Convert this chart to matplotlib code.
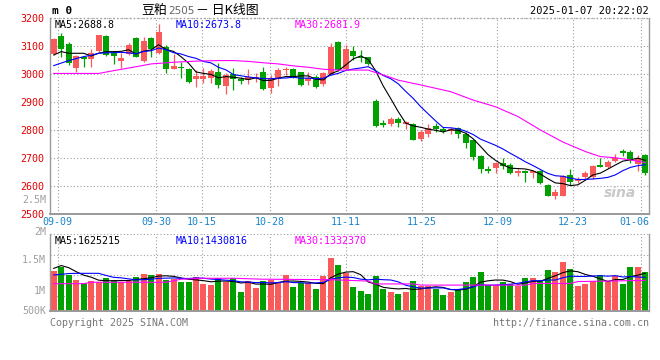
import numpy as np
import pandas as pd
import matplotlib

matplotlib.use("Agg")
import matplotlib.pyplot as plt

# trading days shown on the chart (2024-09-06 .. 2025-01-07)
dates = [
    "09-06", "09-09", "09-10", "09-11", "09-12", "09-13", "09-18", "09-19", "09-20",
    "09-23", "09-24", "09-25", "09-26", "09-27", "09-30",
    "10-08", "10-09", "10-10", "10-11", "10-14", "10-15", "10-16", "10-17", "10-18",
    "10-21", "10-22", "10-23", "10-24", "10-25", "10-28", "10-29", "10-30", "10-31",
    "11-01", "11-04", "11-05", "11-06", "11-07", "11-08", "11-11", "11-12", "11-13",
    "11-14", "11-15", "11-18", "11-19", "11-20", "11-21", "11-22", "11-25", "11-26",
    "11-27", "11-28", "11-29", "12-02", "12-03", "12-04", "12-05", "12-06", "12-09",
    "12-10", "12-11", "12-12", "12-13", "12-16", "12-17", "12-18", "12-19", "12-20",
    "12-23", "12-24", "12-25", "12-26", "12-27", "12-30", "12-31",
    "01-02", "01-03", "01-06", "01-07",
]
label_dates = ["09-09", "09-30", "10-15", "10-28", "11-11", "11-25", "12-09", "12-23", "01-06"]

opens = [
    3070, 3136, 3107, 3023, 3062, 3054, 3082, 3137, 3081, 3048,
    3070, 3130, 3046, 3130, 3076, 3096, 3018, 3026, 3017, 2981,
    2982, 2987, 3007, 2958, 2999, 2981, 2979, 2984, 3007, 2951,
    2982, 3013, 3017, 3006, 2975, 2990, 2966, 2999, 3114, 3018,
    3082, 3060, 3060, 2904, 2825, 2820, 2839, 2820, 2821, 2767,
    2786, 2814, 2804, 2797, 2808, 2785, 2764, 2707, 2660, 2663,
    2681, 2675, 2648, 2652, 2648, 2654, 2604, 2566, 2566, 2638,
    2618, 2631, 2633, 2674, 2668, 2689, 2726, 2720, 2679, 2711,
]
highs = [
    3127, 3148, 3114, 3068, 3064, 3088, 3141, 3139, 3082, 3074,
    3112, 3133, 3133, 3133, 3179, 3104, 3070, 3044, 3020, 3014,
    3020, 3017, 3038, 3005, 3023, 2990, 3018, 3005, 3026, 2996,
    3020, 3026, 3023, 3008, 3006, 2996, 3008, 3112, 3118, 3104,
    3100, 3086, 3062, 2911, 2836, 2845, 2845, 2833, 2824, 2800,
    2821, 2826, 2812, 2812, 2812, 2794, 2767, 2710, 2671, 2687,
    2699, 2681, 2660, 2657, 2655, 2657, 2606, 2588, 2639, 2660,
    2631, 2652, 2675, 2699, 2693, 2714, 2733, 2729, 2711, 2713,
]
lows = [
    3068, 3062, 3032, 3008, 3026, 3026, 3078, 3064, 3035, 3023,
    3068, 3060, 3043, 3062, 3070, 3005, 3017, 2985, 2969, 2955,
    2967, 2969, 2950, 2929, 2943, 2963, 2964, 2970, 2943, 2931,
    2957, 2996, 2985, 2957, 2960, 2951, 2958, 2996, 3012, 3014,
    3050, 3044, 3031, 2810, 2812, 2815, 2812, 2803, 2764, 2762,
    2776, 2794, 2788, 2786, 2773, 2737, 2693, 2645, 2648, 2648,
    2661, 2643, 2636, 2616, 2628, 2607, 2565, 2552, 2563, 2605,
    2612, 2625, 2624, 2667, 2663, 2685, 2707, 2683, 2654, 2639,
]
closes = [
    3125, 3089, 3040, 3064, 3052, 3076, 3139, 3067, 3065, 3057,
    3105, 3062, 3118, 3088, 3150, 3019, 3029, 3023, 2973, 2993,
    2993, 3011, 2961, 2996, 2981, 2976, 2988, 2990, 2948, 2985,
    3014, 3018, 2988, 2961, 2985, 2955, 3005, 3098, 3014, 3089,
    3064, 3057, 3034, 2813, 2819, 2839, 2825, 2827, 2764, 2794,
    2806, 2804, 2798, 2802, 2785, 2755, 2705, 2660, 2655, 2683,
    2673, 2648, 2652, 2648, 2652, 2612, 2566, 2577, 2636, 2616,
    2626, 2648, 2671, 2669, 2687, 2700, 2717, 2693, 2700, 2648,
]
# volume in millions of lots
volumes = [
    1.70, 1.88, 1.53, 1.32, 1.18, 1.27, 1.24, 1.42, 1.32, 1.22,
    1.27, 1.46, 1.59, 1.51, 1.59, 1.32, 1.35, 1.24, 1.24, 1.46,
    1.15, 1.11, 1.39, 1.24, 1.39, 0.82, 1.27, 0.99, 1.27, 1.32,
    1.22, 1.53, 1.03, 1.18, 1.18, 0.94, 1.49, 2.27, 1.96, 1.60,
    1.03, 0.85, 0.72, 1.49, 0.94, 0.82, 0.72, 0.82, 1.27, 1.06,
    1.06, 0.93, 0.69, 0.82, 0.94, 1.24, 1.46, 1.66, 1.11, 1.11,
    1.22, 1.14, 1.08, 1.42, 1.42, 1.27, 1.72, 1.66, 2.08, 1.80,
    1.08, 1.14, 1.27, 1.53, 1.24, 1.49, 1.15, 1.87, 1.87, 1.64,
]

# moving-average values before enough history is on screen
ma5_head = [3068, 3080, 3074, 3074]
ma10_head = [3030, 3039, 3048, 3055, 3062, 3067, 3074, 3076, 3076]
ma30_idx = [0, 6, 8, 11, 13, 16, 19, 22, 24, 26, 28, 30, 32, 34, 36, 38, 42, 43, 45,
            46, 49, 53, 56, 59, 62, 65, 68, 71, 73, 75, 77, 79]
ma30_val = [3002, 3002, 3012, 3026, 3036, 3042, 3046, 3048, 3048, 3045, 3040, 3036,
            3029, 3024, 3017, 3014, 3014, 3005, 2988, 2978, 2961, 2937, 2907, 2883,
            2848, 2800, 2757, 2723, 2705, 2701, 2693, 2684]
vma5_head = [1.81, 1.93, 1.84, 1.67]
vma10_head = [1.53, 1.56, 1.59, 1.60, 1.60, 1.60, 1.60, 1.51, 1.43]
vma30_idx = [0, 4, 5, 15, 17, 20, 24, 28, 37, 42, 43, 48, 49, 63, 64, 69, 70, 79]
vma30_val = [1.16, 1.16, 1.22, 1.22, 1.35, 1.39, 1.39, 1.35, 1.33, 1.27, 1.15, 1.15,
             1.10, 1.10, 1.17, 1.17, 1.25, 1.30]

RED = "#FA5A5A"
GREEN = "#00A000"
GRID = "#A0A0A0"
MONO = "DejaVu Sans Mono"
W, H = 660, 360


def _axes(fig, left, top, right, bottom):
    return fig.add_axes([left / W, 1 - bottom / H, (right - left) / W, (bottom - top) / H])


def _frame(ax):
    ax.spines["top"].set_visible(False)
    for side in ("left", "right"):
        ax.spines[side].set_color("#999999")
        ax.spines[side].set_linewidth(1.0)
    ax.spines["bottom"].set_color("#999999")
    ax.spines["bottom"].set_linewidth(1.4)
    ax.set_xticks([])
    ax.tick_params(axis="y", length=0)


def _grid_x(ax, positions):
    for x in positions:
        ax.axvline(x, color=GRID, lw=0.8, ls=(0, (1, 2)), zorder=0)


def main():
    n = len(closes)
    x = np.arange(n)
    o = np.array(opens, float)
    c = np.array(closes, float)
    up = c >= o
    colors = np.where(up, RED, GREEN)

    close_s = pd.Series(c)
    ma5 = close_s.rolling(5).mean().to_numpy()
    ma5[:4] = ma5_head
    ma10 = close_s.rolling(10).mean().to_numpy()
    ma10[:9] = ma10_head

    vol = np.array(volumes) * 1e6
    vol_s = pd.Series(vol)
    vma5 = vol_s.rolling(5).mean().to_numpy()
    vma5[:4] = np.array(vma5_head) * 1e6
    vma10 = vol_s.rolling(10).mean().to_numpy()
    vma10[:9] = np.array(vma10_head) * 1e6

    # sina places the date grid on a slightly different step than the candles
    grid_x = [dates.index(d) * n / (n - 1) - 0.5 for d in label_dates]

    fig = plt.figure(figsize=(6.6, 3.6), dpi=100)
    fig.patch.set_facecolor("white")

    # ---- price panel
    ax = _axes(fig, 50, 18, 649, 214)
    _frame(ax)
    ax.set_xlim(-0.5, n - 0.5)
    ax.set_ylim(2500, 3200)
    ax.set_yticks(range(2500, 3201, 100))
    ax.set_yticklabels([str(v) for v in range(2500, 3201, 100)],
                       family=MONO, fontsize=7.2, color="#E00000")
    ax.tick_params(axis="y", pad=4)
    ax.grid(axis="y", color=GRID, lw=0.8, ls=(0, (1, 2)), zorder=0)
    ax.axhline(3200, color=GRID, lw=1.0, ls=(0, (1, 2)), clip_on=False)
    _grid_x(ax, grid_x)

    body_bottom = np.minimum(o, c)
    body_h = np.maximum(np.abs(c - o), 2.5)
    ax.vlines(x, lows, highs, colors=colors, lw=0.9, zorder=2)
    ax.bar(x, body_h, bottom=body_bottom, width=0.8, color=colors, lw=0, zorder=3)

    ax.plot(x, ma5, color="black", lw=0.8, zorder=4)
    ax.plot(x, ma10, color="#0000FF", lw=0.8, zorder=4)
    ax.plot(ma30_idx, ma30_val, color="#FF00FF", lw=0.8, zorder=4)

    for d, gx in zip(label_dates, grid_x):
        if d == label_dates[-1]:
            ax.text(n - 0.5, -0.016, d, transform=ax.get_xaxis_transform(), ha="right",
                    va="top", family=MONO, fontsize=7.2, color="#1A84CC")
        else:
            ax.text(gx, -0.016, d, transform=ax.get_xaxis_transform(), ha="center",
                    va="top", family=MONO, fontsize=7.2, color="#1A84CC")

    ax.text(0.007, 0.988, "MA5:%.1f" % 2688.8, transform=ax.transAxes, va="top",
            family=MONO, fontsize=7.2, color="black")
    ax.text(0.209, 0.988, "MA10:%.1f" % 2673.8, transform=ax.transAxes, va="top",
            family=MONO, fontsize=7.2, color="#0000FF")
    ax.text(0.409, 0.988, "MA30:%.1f" % 2681.9, transform=ax.transAxes, va="top",
            family=MONO, fontsize=7.2, color="#FF00FF")
    ax.text(0.978, 0.07, "sina", transform=ax.transAxes, ha="right", va="bottom",
            fontsize=10, style="italic", weight="bold", color="#C8C8C8")

    # ---- volume panel
    axv = _axes(fig, 50, 234, 649, 311)
    _frame(axv)
    axv.set_xlim(-0.5, n - 0.5)
    axv.set_ylim(0, 3.27e6)
    axv.set_yticks([])
    for f in (0.2, 0.466, 0.727, 1.0):
        axv.axhline(f * 3.27e6, color=GRID, lw=0.8, ls=(0, (1, 2)), zorder=0, clip_on=False)
    _grid_x(axv, grid_x)
    axv.bar(x, vol, width=0.8, color=colors, lw=0, zorder=2)
    axv.plot(x, vma5, color="black", lw=0.8, zorder=3)
    axv.plot(x, vma10, color="#0000FF", lw=0.8, zorder=3)
    axv.plot(vma30_idx, np.array(vma30_val) * 1e6, color="#FF00FF", lw=0.8, zorder=3)

    axv.text(0.007, 0.97, "MA5:1625215", transform=axv.transAxes, va="top",
             family=MONO, fontsize=7.2, color="black")
    axv.text(0.209, 0.97, "MA10:1430816", transform=axv.transAxes, va="top",
             family=MONO, fontsize=7.2, color="#0000FF")
    axv.text(0.409, 0.97, "MA30:1332370", transform=axv.transAxes, va="top",
             family=MONO, fontsize=7.2, color="#FF00FF")

    for label, ypx in (("2.5M", 200), ("2M", 232), ("1.5M", 260), ("1M", 291), ("500K", 311)):
        fig.text(46 / W, 1 - ypx / H, label, ha="right", va="center", family=MONO,
                 fontsize=7.2, color="#A0A0A0")

    # ---- header / footer
    fig.text(52 / W, 1 - 11.5 / H, "m 0", ha="left", va="center", family=MONO,
             fontsize=8, weight="bold", color="black")
    fig.text(141 / W, 1 - 10.5 / H, "豆粕", ha="left", va="center",
             family=["Noto Sans CJK SC", "DejaVu Sans"], fontsize=9.3, color="black")
    fig.text(168 / W, 1 - 10.5 / H, "2505", ha="left", va="center",
             family="DejaVu Sans", fontsize=7.5, color="#666666")
    fig.text(196 / W, 1 - 10.5 / H, "－ 日K线图", ha="left", va="center",
             family=["Noto Sans CJK SC", "DejaVu Sans"], fontsize=9.3, color="black")
    fig.text(649 / W, 1 - 11.5 / H, "2025-01-07 20:22:02", ha="right", va="center",
             family=MONO, fontsize=7.5, color="black")
    fig.text(50 / W, 1 - 323 / H, "Copyright 2025 SINA.COM", ha="left", va="center",
             family=MONO, fontsize=7.2, color="#777777")
    fig.text(649 / W, 1 - 323 / H, "http://finance.sina.com.cn", ha="right", va="center",
             family=MONO, fontsize=7.2, color="#777777")

    fig.savefig("out.png", dpi=100, facecolor="white")


if __name__ == "__main__":
    main()
